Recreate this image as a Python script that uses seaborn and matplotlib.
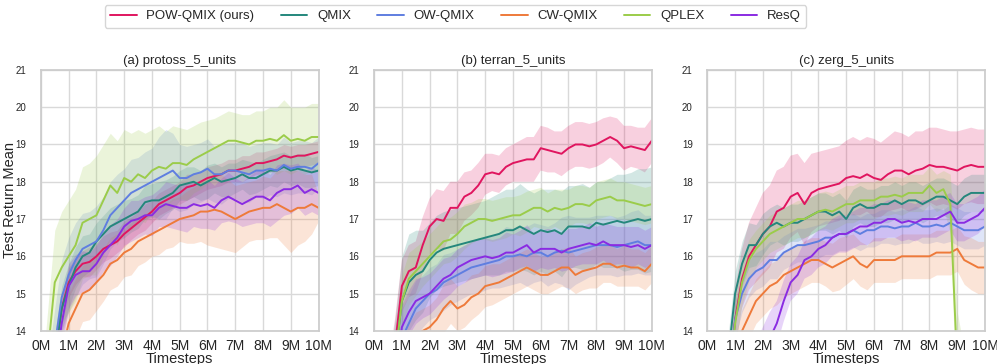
import numpy as np
import pandas as pd
import matplotlib
matplotlib.use("Agg")
import matplotlib.pyplot as plt
import seaborn as sns

# ---------------- data ----------------
steps_m = [i * 0.25 for i in range(41)]  # timesteps in millions
methods = ["POW-QMIX (ours)", "QMIX", "OW-QMIX", "CW-QMIX", "QPLEX", "ResQ"]
colors = ["#e0155f", "#24877c", "#5f7ee0", "#ee7a3a", "#9bcc4a", "#8a2be2"]
titles = ["(a) protoss_5_units", "(b) terran_5_units", "(c) zerg_5_units"]

# panel (a) protoss
a_pow = [11.0, 12.2, 13.3, 14.6, 15.3, 15.6, 15.8, 15.85, 16.0, 16.2, 16.3, 16.4, 16.6, 16.75, 16.9, 17.05, 17.2, 17.4, 17.5, 17.6, 17.7, 17.85, 17.9, 18.0, 18.1, 18.15, 18.2, 18.3, 18.3, 18.35, 18.4, 18.5, 18.5, 18.55, 18.6, 18.7, 18.65, 18.7, 18.7, 18.75, 18.8]
a_qmix = [10.8, 12.0, 13.3, 14.6, 15.2, 15.7, 16.0, 16.1, 16.4, 16.6, 16.8, 16.9, 17.0, 17.1, 17.2, 17.45, 17.5, 17.5, 17.6, 17.7, 17.9, 17.95, 18.0, 17.9, 18.0, 18.1, 18.0, 18.05, 18.1, 18.2, 18.1, 18.1, 18.2, 18.3, 18.3, 18.4, 18.3, 18.35, 18.3, 18.25, 18.3]
a_ow = [11.0, 12.3, 13.6, 14.9, 15.5, 15.9, 16.2, 16.3, 16.4, 16.7, 17.1, 17.3, 17.5, 17.7, 17.8, 17.9, 18.0, 18.1, 18.2, 18.3, 18.1, 18.1, 18.2, 18.25, 18.35, 18.2, 18.2, 18.3, 18.3, 18.25, 18.2, 18.3, 18.3, 18.35, 18.3, 18.45, 18.35, 18.4, 18.4, 18.35, 18.5]
a_cw = [9.8, 11.0, 12.2, 13.4, 14.2, 14.6, 15.0, 15.1, 15.3, 15.5, 15.8, 15.9, 16.1, 16.2, 16.4, 16.5, 16.6, 16.7, 16.8, 16.9, 17.0, 17.05, 17.1, 17.2, 17.2, 17.25, 17.2, 17.1, 17.0, 17.1, 17.2, 17.25, 17.3, 17.3, 17.4, 17.3, 17.2, 17.3, 17.3, 17.4, 17.3]
a_qplex = [11.5, 13.4, 15.3, 15.7, 16.0, 16.3, 16.9, 17.0, 17.1, 17.5, 17.9, 17.7, 18.1, 18.0, 18.2, 18.1, 18.3, 18.4, 18.35, 18.5, 18.5, 18.45, 18.6, 18.7, 18.8, 18.9, 19.0, 19.1, 19.1, 19.05, 19.0, 19.1, 19.1, 19.15, 19.1, 19.25, 19.1, 19.15, 19.1, 19.2, 19.2]
a_resq = [10.5, 11.7, 12.9, 14.2, 15.2, 15.5, 15.6, 15.6, 15.8, 16.1, 16.3, 16.5, 16.8, 16.95, 17.0, 17.1, 17.1, 17.3, 17.4, 17.35, 17.3, 17.3, 17.4, 17.35, 17.4, 17.3, 17.5, 17.6, 17.5, 17.4, 17.5, 17.6, 17.6, 17.5, 17.7, 17.8, 17.8, 17.9, 17.7, 17.8, 17.7]

a_pow_sd = [0.4, 0.4, 0.4, 0.4, 0.4, 0.35, 0.35, 0.4, 0.35, 0.35, 0.35, 0.3, 0.35, 0.3, 0.3, 0.35, 0.3, 0.3, 0.3, 0.3, 0.3, 0.35, 0.3, 0.3, 0.3, 0.3, 0.3, 0.3, 0.3, 0.35, 0.3, 0.3, 0.3, 0.3, 0.3, 0.3, 0.3, 0.3, 0.3, 0.3, 0.3]
a_qmix_sd = [0.6, 0.6, 0.6, 0.6, 0.6, 0.55, 0.55, 0.5, 0.5, 0.5, 0.5, 0.5, 0.5, 0.45, 0.45, 0.45, 0.45, 0.5, 0.45, 0.45, 0.4, 0.45, 0.4, 0.4, 0.45, 0.4, 0.4, 0.45, 0.4, 0.4, 0.45, 0.4, 0.4, 0.4, 0.45, 0.4, 0.4, 0.4, 0.45, 0.4, 0.4]
a_ow_sd = [0.8, 0.9, 1.0, 1.0, 1.0, 1.0, 0.95, 0.9, 0.95, 0.9, 0.9, 0.9, 0.85, 0.9, 0.85, 0.9, 0.9, 1.1, 1.2, 1.0, 0.9, 0.85, 0.8, 0.8, 0.8, 0.75, 0.8, 0.75, 0.75, 0.8, 0.75, 0.7, 0.75, 0.7, 0.7, 0.75, 0.7, 0.7, 0.7, 0.7, 0.7]
a_cw_sd = [0.7, 0.8, 0.8, 0.8, 0.8, 0.8, 0.75, 0.8, 0.75, 0.7, 0.7, 0.7, 0.65, 0.7, 0.65, 0.65, 0.6, 0.65, 0.6, 0.65, 0.6, 0.7, 0.75, 0.8, 0.9, 1.0, 1.0, 0.95, 0.9, 0.85, 0.8, 0.8, 0.85, 0.8, 0.9, 1.0, 1.1, 1.0, 0.9, 0.8, 0.35]
a_qplex_sd = [1.0, 1.2, 1.4, 1.5, 1.5, 1.5, 1.5, 1.5, 1.6, 1.5, 1.4, 1.4, 1.3, 1.3, 1.2, 1.2, 1.1, 1.1, 1.0, 1.0, 0.95, 0.95, 0.9, 0.9, 0.85, 0.8, 0.8, 0.8, 0.75, 0.75, 0.8, 0.8, 0.8, 0.85, 0.9, 0.95, 0.9, 0.85, 0.9, 0.9, 0.9]
a_resq_sd = [0.6, 0.6, 0.6, 0.6, 0.6, 0.55, 0.55, 0.5, 0.5, 0.5, 0.55, 0.5, 0.5, 0.55, 0.5, 0.5, 0.55, 0.5, 0.6, 0.6, 0.6, 0.65, 0.6, 0.6, 0.65, 0.6, 0.6, 0.65, 0.6, 0.6, 0.65, 0.7, 0.7, 0.7, 0.75, 0.7, 0.65, 0.6, 0.6, 0.6, 0.6]

# panel (b) terran
b_pow = [10.0, 11.2, 12.4, 13.6, 15.2, 15.6, 15.7, 16.3, 16.8, 17.0, 16.95, 17.3, 17.3, 17.6, 17.7, 17.9, 18.2, 18.25, 18.2, 18.4, 18.5, 18.55, 18.6, 18.6, 18.9, 18.85, 18.8, 18.75, 18.9, 19.0, 19.0, 18.95, 19.0, 19.1, 19.2, 19.1, 18.9, 18.95, 18.9, 18.85, 19.1]
b_qmix = [10.0, 11.0, 12.0, 13.2, 14.8, 15.3, 15.5, 15.6, 15.9, 16.1, 16.2, 16.25, 16.3, 16.35, 16.4, 16.45, 16.5, 16.55, 16.6, 16.7, 16.7, 16.8, 16.7, 16.6, 16.7, 16.65, 16.7, 16.6, 16.8, 16.8, 16.8, 16.75, 16.9, 16.85, 16.9, 16.95, 16.9, 16.95, 17.0, 16.95, 17.0]
b_ow = [9.5, 10.4, 11.4, 12.6, 13.8, 14.2, 14.6, 14.8, 15.0, 15.1, 15.3, 15.4, 15.5, 15.6, 15.7, 15.75, 15.8, 15.85, 15.9, 16.0, 16.0, 16.05, 16.0, 16.1, 16.1, 16.0, 16.1, 16.15, 16.1, 16.15, 16.2, 16.25, 16.3, 16.3, 16.3, 16.25, 16.3, 16.35, 16.4, 16.3, 16.3]
b_cw = [9.0, 10.0, 11.0, 12.2, 13.2, 13.6, 13.9, 14.0, 14.1, 14.3, 14.6, 14.8, 14.6, 14.7, 14.9, 15.0, 15.2, 15.25, 15.3, 15.4, 15.5, 15.6, 15.7, 15.6, 15.5, 15.5, 15.6, 15.7, 15.7, 15.5, 15.6, 15.65, 15.7, 15.8, 15.8, 15.7, 15.75, 15.7, 15.7, 15.6, 15.8]
b_qplex = [10.0, 11.0, 12.0, 13.2, 14.8, 15.4, 15.6, 15.8, 16.0, 16.2, 16.4, 16.45, 16.6, 16.8, 16.9, 17.0, 17.0, 16.95, 17.0, 17.05, 17.1, 17.1, 17.2, 17.3, 17.3, 17.2, 17.3, 17.25, 17.3, 17.4, 17.4, 17.35, 17.5, 17.55, 17.6, 17.5, 17.5, 17.45, 17.4, 17.35, 17.4]
b_resq = [9.5, 10.5, 11.5, 12.8, 14.1, 14.5, 14.8, 14.9, 15.0, 15.2, 15.4, 15.5, 15.7, 15.8, 15.9, 15.95, 16.0, 15.95, 16.0, 16.1, 16.1, 16.2, 16.3, 16.1, 16.2, 16.2, 16.2, 16.1, 16.2, 16.25, 16.3, 16.35, 16.3, 16.4, 16.3, 16.3, 16.3, 16.25, 16.3, 16.2, 16.3]

b_pow_sd = [0.7, 0.7, 0.7, 0.7, 0.7, 0.7, 0.7, 0.75, 0.75, 0.8, 0.8, 0.7, 0.7, 0.65, 0.6, 0.6, 0.55, 0.5, 0.5, 0.5, 0.5, 0.55, 0.6, 0.6, 0.6, 0.6, 0.55, 0.6, 0.6, 0.6, 0.6, 0.6, 0.6, 0.6, 0.55, 0.6, 0.6, 0.55, 0.55, 0.6, 0.6]
b_qmix_sd = [1.0, 1.0, 1.0, 1.1, 1.2, 1.3, 1.2, 1.1, 1.0, 1.0, 1.0, 1.0, 1.0, 1.0, 1.0, 1.0, 1.0, 1.05, 1.1, 1.1, 1.1, 1.15, 1.1, 1.1, 1.1, 1.15, 1.1, 1.15, 1.1, 1.1, 1.15, 1.1, 1.1, 1.15, 1.2, 1.25, 1.3, 1.3, 1.35, 1.4, 1.4]
b_ow_sd = [0.8, 0.8, 0.8, 0.8, 0.8, 0.75, 0.75, 0.7, 0.7, 0.7, 0.75, 0.7, 0.7, 0.7, 0.7, 0.75, 0.7, 0.7, 0.75, 0.8, 0.75, 0.75, 0.8, 0.8, 0.75, 0.8, 0.8, 0.9, 1.0, 0.9, 0.85, 0.8, 0.8, 0.8, 0.8, 0.8, 0.8, 0.85, 0.85, 0.8, 0.8]
b_cw_sd = [0.6, 0.6, 0.6, 0.6, 0.6, 0.6, 0.6, 0.6, 0.6, 0.6, 0.65, 0.6, 0.6, 0.6, 0.6, 0.55, 0.55, 0.55, 0.5, 0.5, 0.5, 0.5, 0.5, 0.5, 0.5, 0.5, 0.5, 0.5, 0.55, 0.5, 0.5, 0.5, 0.55, 0.5, 0.5, 0.5, 0.55, 0.5, 0.5, 0.5, 0.5]
b_qplex_sd = [0.7, 0.7, 0.7, 0.7, 0.7, 0.7, 0.65, 0.6, 0.6, 0.6, 0.6, 0.6, 0.6, 0.6, 0.55, 0.55, 0.55, 0.55, 0.55, 0.55, 0.5, 0.55, 0.55, 0.5, 0.55, 0.5, 0.5, 0.55, 0.5, 0.5, 0.5, 0.5, 0.5, 0.5, 0.5, 0.5, 0.5, 0.5, 0.5, 0.5, 0.5]
b_resq_sd = [0.6, 0.6, 0.6, 0.6, 0.6, 0.6, 0.6, 0.55, 0.55, 0.55, 0.55, 0.5, 0.5, 0.5, 0.5, 0.5, 0.5, 0.5, 0.5, 0.55, 0.5, 0.5, 0.55, 0.5, 0.5, 0.55, 0.5, 0.5, 0.55, 0.5, 0.5, 0.55, 0.5, 0.5, 0.55, 0.5, 0.5, 0.55, 0.5, 0.5, 0.5]

# panel (c) zerg
c_pow = [9.5, 10.3, 11.2, 12.5, 14.3, 15.4, 16.0, 16.3, 16.6, 16.8, 17.2, 17.3, 17.6, 17.7, 17.4, 17.7, 17.8, 17.85, 17.9, 17.95, 18.1, 18.15, 18.1, 18.2, 18.1, 18.05, 18.2, 18.3, 18.3, 18.2, 18.3, 18.35, 18.45, 18.4, 18.4, 18.35, 18.3, 18.4, 18.45, 18.4, 18.4]
c_qmix = [10.5, 11.3, 12.3, 13.3, 15.0, 15.8, 16.3, 16.3, 16.6, 16.8, 16.9, 16.8, 16.9, 16.9, 17.0, 17.1, 17.2, 17.2, 17.1, 17.2, 17.0, 17.3, 17.4, 17.3, 17.3, 17.4, 17.4, 17.5, 17.4, 17.5, 17.5, 17.4, 17.5, 17.6, 17.6, 17.5, 17.4, 17.6, 17.7, 17.7, 17.7]
c_ow = [9.5, 10.4, 11.4, 12.6, 14.3, 15.0, 15.4, 15.6, 15.7, 15.9, 15.9, 16.1, 16.2, 16.3, 16.3, 16.35, 16.4, 16.5, 16.5, 16.6, 16.6, 16.7, 16.6, 16.7, 16.7, 16.8, 16.8, 16.75, 16.8, 16.8, 16.9, 16.8, 16.8, 16.85, 16.8, 16.9, 16.8, 16.7, 16.7, 16.7, 16.8]
c_cw = [9.0, 9.8, 10.8, 12.0, 13.2, 14.0, 14.4, 14.8, 15.0, 15.2, 15.3, 15.5, 15.6, 15.7, 15.8, 15.9, 15.9, 15.8, 15.7, 15.8, 15.9, 16.0, 15.8, 15.7, 15.9, 15.9, 15.9, 15.9, 16.0, 16.0, 16.0, 16.0, 16.0, 16.1, 16.1, 16.1, 16.2, 15.9, 15.8, 15.7, 15.7]
c_qplex = [9.5, 10.3, 11.2, 12.5, 14.2, 15.3, 15.9, 16.2, 16.4, 16.6, 16.7, 16.8, 16.9, 17.0, 17.0, 17.1, 17.2, 17.25, 17.2, 17.3, 17.4, 17.4, 17.5, 17.5, 17.5, 17.6, 17.6, 17.65, 17.6, 17.7, 17.7, 17.7, 17.9, 17.7, 17.8, 17.4, 13.0, 12.0, 11.8, 11.7, 11.6]
c_resq = [8.0, 8.8, 9.6, 10.4, 11.2, 11.9, 12.5, 13.0, 13.4, 13.8, 14.2, 14.8, 15.3, 15.5, 15.9, 16.0, 16.2, 16.3, 16.5, 16.6, 16.6, 16.7, 16.8, 16.8, 16.9, 16.9, 17.0, 17.0, 16.9, 16.95, 16.9, 17.0, 17.0, 17.0, 17.1, 17.2, 16.9, 16.9, 17.0, 17.1, 17.3]

c_pow_sd = [0.8, 0.8, 0.8, 0.8, 0.8, 0.8, 0.9, 1.0, 1.1, 1.1, 1.1, 1.1, 1.1, 1.05, 1.1, 1.05, 1.0, 1.0, 1.0, 1.0, 1.0, 1.05, 1.0, 1.0, 1.05, 1.0, 1.0, 1.05, 1.0, 1.0, 1.05, 1.0, 1.0, 1.05, 1.0, 1.0, 1.05, 1.0, 1.0, 1.0, 1.0]
c_qmix_sd = [0.6, 0.6, 0.6, 0.6, 0.6, 0.6, 0.6, 0.55, 0.55, 0.5, 0.5, 0.5, 0.5, 0.5, 0.5, 0.5, 0.5, 0.5, 0.5, 0.5, 0.5, 0.5, 0.5, 0.5, 0.5, 0.5, 0.5, 0.5, 0.5, 0.5, 0.5, 0.5, 0.5, 0.5, 0.5, 0.5, 0.5, 0.5, 0.5, 0.5, 0.5]
c_ow_sd = [0.5, 0.5, 0.5, 0.5, 0.5, 0.5, 0.5, 0.5, 0.5, 0.5, 0.5, 0.45, 0.45, 0.45, 0.45, 0.45, 0.45, 0.45, 0.45, 0.45, 0.45, 0.45, 0.45, 0.45, 0.45, 0.45, 0.45, 0.45, 0.45, 0.45, 0.45, 0.45, 0.45, 0.45, 0.45, 0.5, 0.5, 0.5, 0.5, 0.5, 0.5]
c_cw_sd = [0.6, 0.6, 0.6, 0.6, 0.6, 0.6, 0.6, 0.6, 0.6, 0.6, 0.6, 0.6, 0.6, 0.6, 0.6, 0.6, 0.6, 0.6, 0.65, 0.7, 0.65, 0.6, 0.6, 0.6, 0.6, 0.6, 0.6, 0.6, 0.6, 0.6, 0.6, 0.6, 0.6, 0.6, 0.6, 0.6, 0.6, 0.65, 0.7, 0.7, 0.7]
c_qplex_sd = [0.6, 0.6, 0.6, 0.6, 0.6, 0.6, 0.55, 0.5, 0.5, 0.5, 0.5, 0.5, 0.5, 0.5, 0.5, 0.5, 0.5, 0.5, 0.5, 0.5, 0.5, 0.5, 0.5, 0.5, 0.5, 0.5, 0.5, 0.5, 0.5, 0.5, 0.5, 0.5, 0.5, 0.5, 0.5, 0.8, 1.5, 1.5, 1.5, 1.5, 1.5]
c_resq_sd = [0.7, 0.7, 0.7, 0.7, 0.7, 0.7, 0.7, 0.7, 0.7, 0.7, 0.6, 0.55, 0.5, 0.5, 0.5, 0.5, 0.5, 0.5, 0.5, 0.5, 0.5, 0.5, 0.5, 0.5, 0.5, 0.5, 0.5, 0.5, 0.5, 0.5, 0.5, 0.5, 0.5, 0.5, 0.5, 0.5, 0.5, 0.5, 0.5, 0.5, 0.5]

panels = [
    ([a_pow, a_qmix, a_ow, a_cw, a_qplex, a_resq],
     [a_pow_sd, a_qmix_sd, a_ow_sd, a_cw_sd, a_qplex_sd, a_resq_sd]),
    ([b_pow, b_qmix, b_ow, b_cw, b_qplex, b_resq],
     [b_pow_sd, b_qmix_sd, b_ow_sd, b_cw_sd, b_qplex_sd, b_resq_sd]),
    ([c_pow, c_qmix, c_ow, c_cw, c_qplex, c_resq],
     [c_pow_sd, c_qmix_sd, c_ow_sd, c_cw_sd, c_qplex_sd, c_resq_sd]),
]

# ---------------- plotting ----------------
sns.set_theme(style="whitegrid")
plt.rcParams["font.family"] = ["Liberation Sans", "DejaVu Sans"]
plt.rcParams["axes.edgecolor"] = "#cccccc"
plt.rcParams["grid.color"] = "#d9d9d9"

fig, axes = plt.subplots(1, 3, figsize=(9.97, 3.64), dpi=100)
fig.subplots_adjust(left=0.041, right=0.988, top=0.808, bottom=0.091, wspace=0.2)

palette = dict(zip(methods, colors))
x_steps = np.array(steps_m) * 1e6

for k, ax in enumerate(axes):
    means, sds = panels[k]
    rows = []
    for m, vals in zip(methods, means):
        for xv, yv in zip(x_steps, vals):
            rows.append({"Timesteps": xv, "Return": yv, "method": m})
    df = pd.DataFrame(rows)
    for m, vals, sd in zip(methods, means, sds):
        v = np.array(vals)
        s = np.array(sd)
        ax.fill_between(x_steps, v - s, v + s, color=palette[m], alpha=0.2, linewidth=0)
    sns.lineplot(data=df, x="Timesteps", y="Return", hue="method", palette=palette,
                 hue_order=methods, linewidth=1.4, ax=ax, legend=False)
    ax.set_xlim(0, 10e6)
    ax.set_ylim(14, 21)
    ax.set_xticks(np.arange(0, 11) * 1e6)
    ax.set_xticklabels([f"{i}M" for i in range(11)], fontsize=10)
    ax.set_yticks(range(14, 22))
    ax.set_yticklabels([str(v) for v in range(14, 22)], fontsize=7)
    ax.tick_params(axis="x", pad=0)
    ax.tick_params(axis="y", pad=4.5)
    ax.set_title(titles[k], fontsize=9.5, pad=4)
    ax.set_xlabel("Timesteps", fontsize=10.5, labelpad=-1)
    ax.set_ylabel("Test Return Mean" if k == 0 else "", fontsize=10.5)
    ax.yaxis.set_label_coords(-0.085, 0.5)
    for sp in ax.spines.values():
        sp.set_color("#cccccc")

handles = [plt.Line2D([0], [0], color=c, lw=1.4) for c in colors]
fig.legend(handles, methods, loc="center", bbox_to_anchor=(0.457, 0.955), ncol=6,
           fontsize=9.5, frameon=True, edgecolor="#cccccc", handlelength=2.0,
           handletextpad=0.75, columnspacing=2.0, borderpad=0.4)

fig.savefig("out.png", dpi=100)
